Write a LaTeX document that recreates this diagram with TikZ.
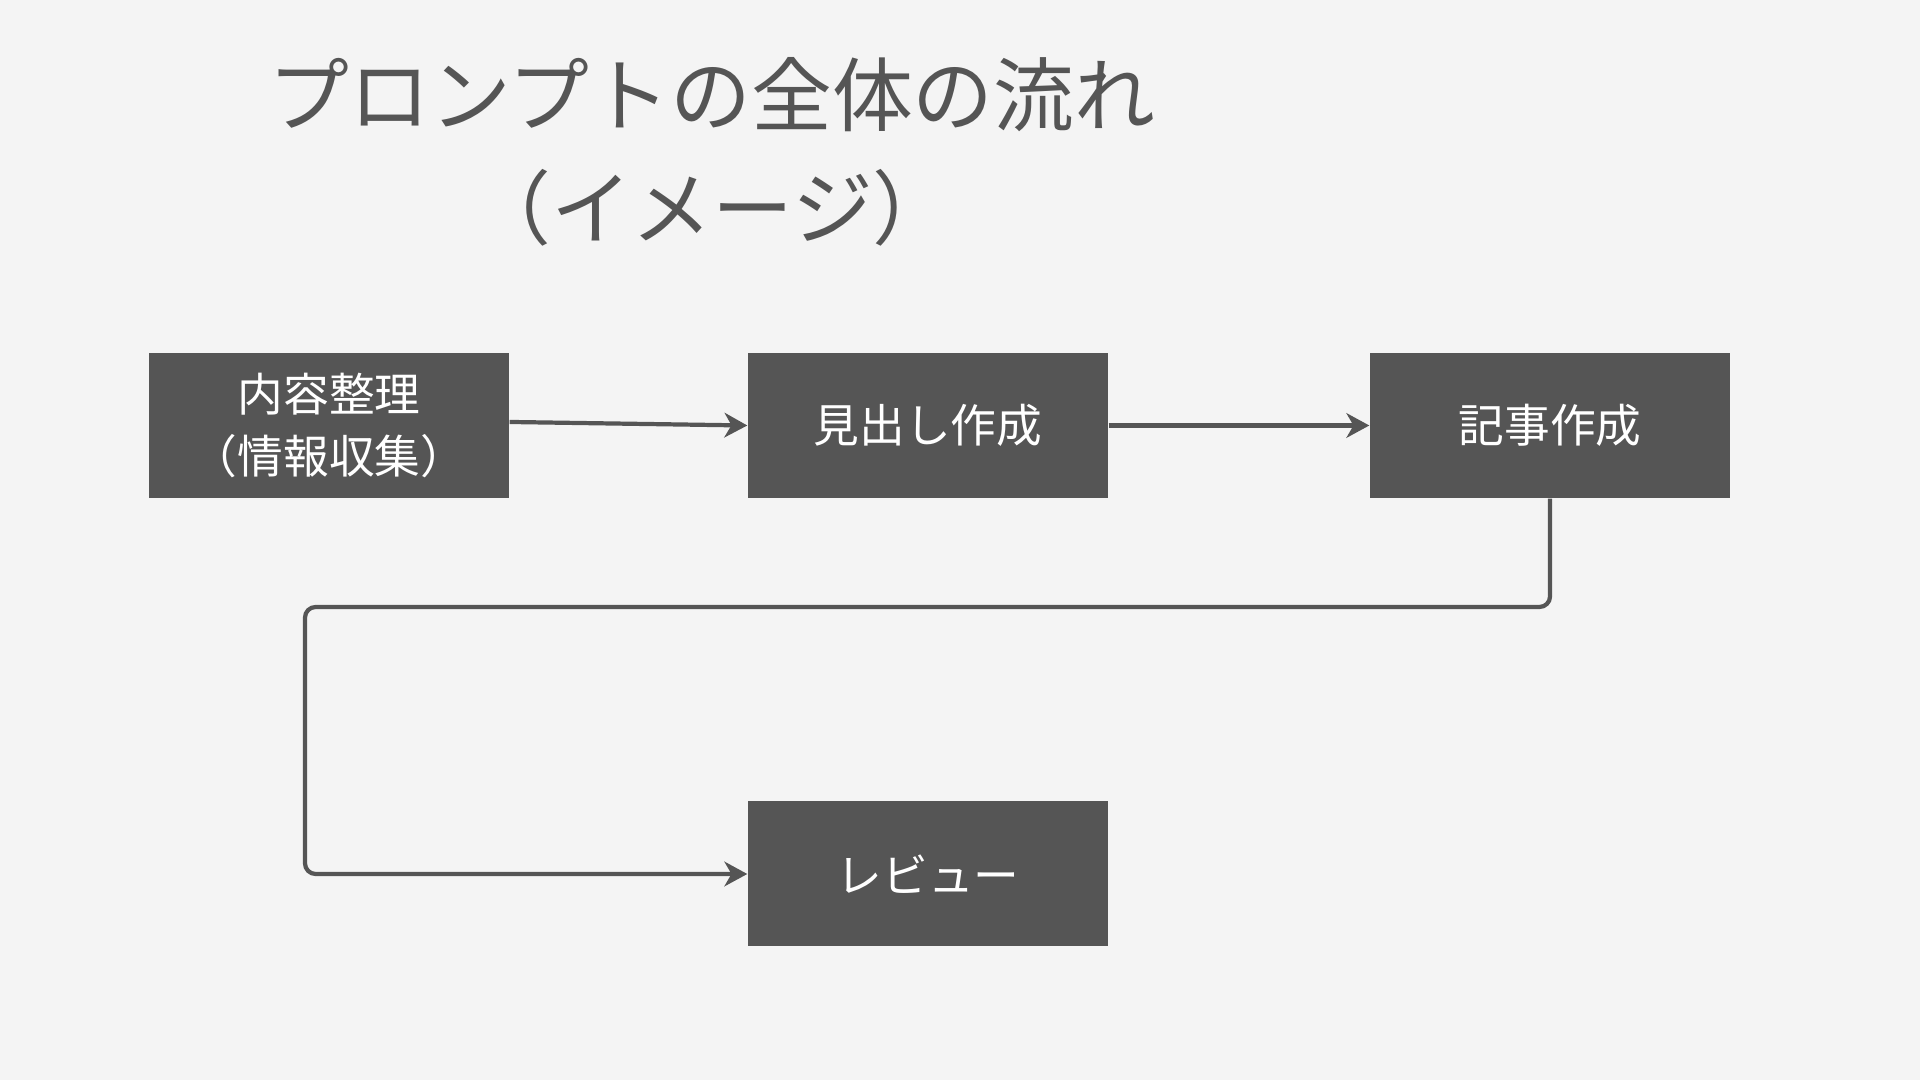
\documentclass[tikz,border=0pt]{standalone}
\usepackage{fontspec}
\usepackage{xcolor}
\usepackage{tikz}
\usetikzlibrary{positioning,calc,arrows.meta}
\setmainfont{Noto Sans CJK JP}
\definecolor{boxgray}{HTML}{555555}
\definecolor{paper}{HTML}{F4F4F4}
\tikzset{
    stagebox/.style={fill=boxgray, text=white, minimum width=3.6cm, minimum height=1.45cm,
        align=center, inner sep=0pt, font=\fontsize{13pt}{17.7pt}\selectfont},
    flow/.style={draw=boxgray, line width=1.2pt, -{Stealth[length=6.5pt,width=7pt,inset=2pt]}}
}

\begin{document}
\begin{tikzpicture}
    % Background
    \fill [paper] (0, 0) rectangle (19.2, 10.8);
    \useasboundingbox (0, 0) rectangle (19.2, 10.8);

    % Title
    \node [text=boxgray, align=center, font=\fontsize{23pt}{32pt}\selectfont] (title) at (7.12, 9.28)
        {プロンプトの全体の流れ\\（イメージ）};

    % Stages
    \node [stagebox] (sort) at (3.29, 6.545) {内容整理\\（情報収集）};
    \node [stagebox] (head) at (9.28, 6.545) {見出し作成};
    \node [stagebox] (write) at (15.5, 6.545) {記事作成};
    \node [stagebox] (review) at (9.28, 2.06) {レビュー};

    % Connectors
    \coordinate (turnR) at (15.5, 4.73);
    \coordinate (turnL) at (3.05, 4.73);
    \draw [flow] ([yshift=1pt]sort.east) -- (head.west);
    \draw [flow] (head.east) -- (write.west);
    \draw [flow, rounded corners=3pt] (write.south) -- (turnR) -- (turnL) |- (review.west);
\end{tikzpicture}
\end{document}
